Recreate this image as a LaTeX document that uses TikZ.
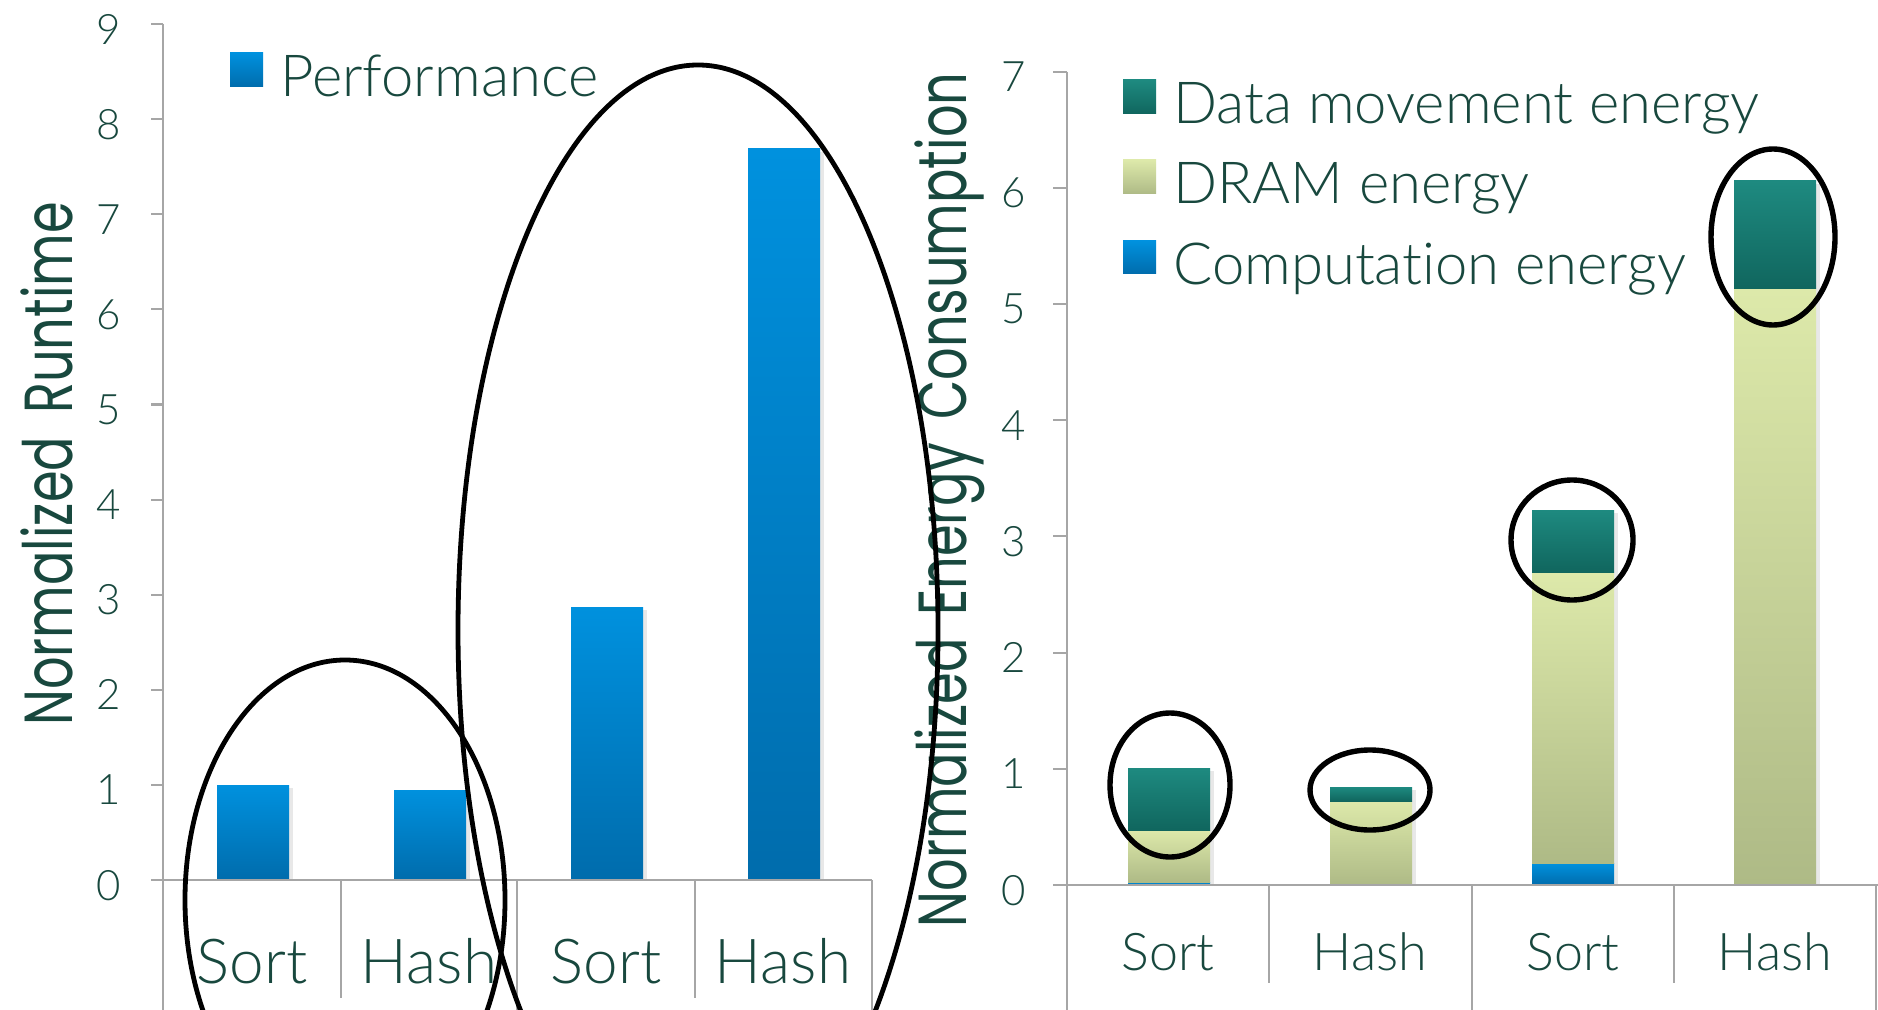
\documentclass[tikz,border=0pt]{standalone}
\usepackage{fontspec}
\setmainfont{Lato}[UprightFont=* Light, Ligatures=NoCommon]
\newfontfamily\titlefont{Poppins}

\definecolor{ink}{RGB}{24,72,62}
\definecolor{axisgrey}{RGB}{166,166,166}
\definecolor{blueTop}{RGB}{0,145,222}
\definecolor{blueBot}{RGB}{0,108,172}
\definecolor{tealTop}{RGB}{30,138,128}
\definecolor{tealBot}{RGB}{16,102,94}
\definecolor{dramTop}{RGB}{221,233,170}
\definecolor{dramBot}{RGB}{174,186,134}

\newcommand\narrowtitle[1]{\scalebox{0.75}[1]{#1}}
\newcommand\wordgap{\hspace{0.45em}}

\begin{document}
\begin{tikzpicture}[x=0.5pt,y=-0.5pt,
  axisline/.style={draw=axisgrey, line width=1pt},
  computebar/.style={top color=blueTop, bottom color=blueBot},
  movebar/.style={top color=tealTop, bottom color=tealBot},
  drambar/.style={top color=dramTop, bottom color=dramBot},
  barshadow/.style={fill=black!9},
  ticklabel/.style={text=ink, inner sep=0pt, anchor=base east, font=\fontsize{21}{21}\selectfont},
  catleft/.style={text=ink, inner sep=0pt, anchor=base, font=\fontsize{31}{31}\selectfont},
  catright/.style={text=ink, inner sep=0pt, anchor=base, font=\fontsize{26}{26}\selectfont},
  legendtext/.style={text=ink, inner sep=0pt, anchor=base west, font=\fontsize{29}{29}\selectfont},
  axistitle/.style={text=ink, inner sep=0pt, anchor=base, rotate=90, font=\titlefont\fontsize{34}{34}\selectfont},
  ring/.style={draw=black, line width=2.4pt},
  thickring/.style={draw=black, line width=2.7pt}
]
\useasboundingbox (0,0) rectangle (1878,1010);
\fill[white] (0,0) rectangle (1878,1010);

% ---------------- left chart: normalized runtime ----------------
% bars
\foreach \xa/\xb/\top in {217/289/785, 394/466/790, 571/643/607, 748/820/149}{
  \fill[barshadow] (\xb,\top+3) rectangle (\xb+4,880);
  \shade[computebar] (\xa,\top) rectangle (\xb,880);
}
% axes
\draw[axisline] (163,24) -- (163,1010);
\draw[axisline] (151,880) -- (872,880);
\foreach \k in {0,...,9}{
  \pgfmathsetmacro\yy{880-95.1*\k}
  \draw[axisline] (151,\yy) -- (163,\yy);
  \node[ticklabel] (lt\k) at (121,\yy+20) {\k};
}
\draw[axisline] (341,880) -- (341,998);
\draw[axisline] (517,880) -- (517,1010);
\draw[axisline] (695,880) -- (695,998);
\draw[axisline] (872,880) -- (872,1010);
% category labels
\node[catleft] (lc1) at (252,983) {Sort};
\node[catleft] (lc2) at (429,983) {Hash};
\node[catleft] (lc3) at (606,983) {Sort};
\node[catleft] (lc4) at (783,983) {Hash};
% axis title
\node[axistitle] (ltitle) at (72,464) {\narrowtitle{Normalized\wordgap Runtime}};
% legend
\shade[computebar] (230,53) rectangle (263,87);
\node[legendtext] (lperf) at (280,97) {Performance};

% ---------------- right chart: normalized energy ----------------
\foreach \xa/\xb/\top in {1128/1210/768, 1330/1412/787, 1532/1614/510, 1734/1816/181}{
  \fill[barshadow] (\xb,\top+3) rectangle (\xb+4,885);
}
% Sort (first group)
\shade[computebar] (1128,882) rectangle (1210,885);
\shade[drambar] (1128,830) rectangle (1210,882);
\shade[movebar] (1128,768) rectangle (1210,830);
% Hash (first group)
\shade[drambar] (1330,801) rectangle (1412,885);
\shade[movebar] (1330,787) rectangle (1412,801);
% Sort (second group)
\shade[computebar] (1532,863) rectangle (1614,885);
\shade[drambar] (1532,572) rectangle (1614,863);
\shade[movebar] (1532,510) rectangle (1614,572);
% Hash (second group)
\shade[drambar] (1734,289) rectangle (1816,885);
\shade[movebar] (1734,181) rectangle (1816,289);
% axes
\draw[axisline] (1067,72) -- (1067,1010);
\draw[axisline] (1053,885) -- (1878,885);
\foreach \k in {0,...,7}{
  \pgfmathsetmacro\yy{885-116.2*\k}
  \draw[axisline] (1053,\yy) -- (1067,\yy);
  \node[ticklabel] (rt\k) at (1026,\yy+20) {\k};
}
\draw[axisline] (1269,885) -- (1269,983);
\draw[axisline] (1472,885) -- (1472,1010);
\draw[axisline] (1674,885) -- (1674,983);
\draw[axisline] (1876,885) -- (1876,1010);
% category labels
\node[catright] (rc1) at (1168,970) {Sort};
\node[catright] (rc2) at (1370,970) {Hash};
\node[catright] (rc3) at (1573,970) {Sort};
\node[catright] (rc4) at (1775,970) {Hash};
% axis title
\node[axistitle] (rtitle) at (966,500) {\narrowtitle{Normalized\wordgap Energy\wordgap Consumption}};
% legend
\shade[movebar] (1123,80) rectangle (1156,114);
\shade[drambar] (1123,160) rectangle (1156,194);
\shade[computebar] (1123,241) rectangle (1156,274);
\node[legendtext] (lmove) at (1173,124) {Data movement energy};
\node[legendtext] (ldram) at (1173,204) {DRAM energy};
\node[legendtext] (lcomp) at (1173,285) {Computation energy};

% ---------------- highlight rings ----------------
\draw[ring] (345,900) ellipse [x radius=160, y radius=240];
\draw[ring] (698,630) ellipse [x radius=240, y radius=565];
\draw[thickring] (1170,785) ellipse [x radius=60, y radius=72];
\draw[thickring] (1370,790) ellipse [x radius=60, y radius=40];
\draw[thickring] (1572,540) ellipse [x radius=61, y radius=60];
\draw[thickring] (1773,237) ellipse [x radius=62, y radius=88];
\end{tikzpicture}
\end{document}
